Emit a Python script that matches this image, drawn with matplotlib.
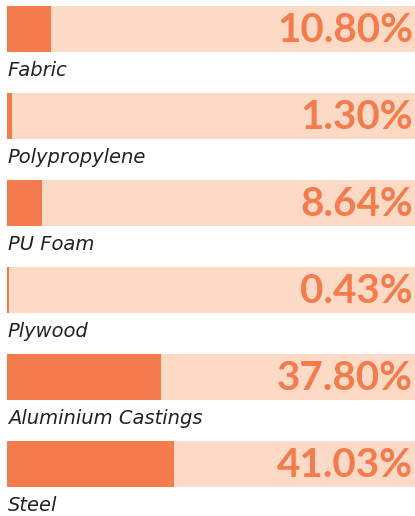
import matplotlib.pyplot as plt

materials = ['Fabric', 'Polypropylene', 'PU Foam', 'Plywood', 'Aluminium Castings', 'Steel']
shares = [10.80, 1.30, 8.64, 0.43, 37.80, 41.03]

orange = '#F47B4C'
peach = '#FCDAC6'

fig = plt.figure(figsize=(4.15, 5.16), dpi=100)
ax = fig.add_axes([7 / 415, 0, 408 / 415, 1])

rows = range(len(materials))
ax.barh(rows, [100] * len(materials), height=0.53, color=peach, left=0)
ax.barh(rows, shares, height=0.53, color=orange, left=0)

for i, (name, val) in enumerate(zip(materials, shares)):
    ax.text(99.5, i + 0.02, f'{val:.2f}%', ha='right', va='center',
            fontsize=29, fontweight='bold', color=orange, family='Lato')
    ax.text(0.2, i + 0.48, name, ha='left', va='center', fontsize=14,
            fontstyle='italic', color='#222222', family='DejaVu Sans')

ax.set_xlim(0, 100)
ax.set_ylim(5.598, -0.333)
ax.axis('off')

plt.savefig('out.png', dpi=100)
